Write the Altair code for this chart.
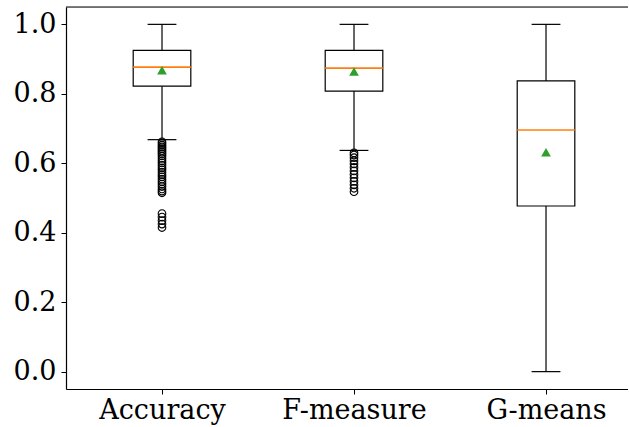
import json
import altair as alt
import pandas as pd

categories = ["Accuracy", "F-measure", "G-means"]
q1 = [0.822, 0.808, 0.477]
median = [0.877, 0.874, 0.696]
q3 = [0.925, 0.925, 0.837]
whisker_low = [0.668, 0.637, 0.0]
whisker_high = [1.0, 1.0, 1.0]
means = [0.868, 0.864, 0.632]

outliers_accuracy = [0.662, 0.657, 0.652, 0.647, 0.642, 0.637, 0.632, 0.627, 0.621,
                     0.614, 0.607, 0.601, 0.594, 0.587, 0.581, 0.574, 0.567, 0.561,
                     0.554, 0.547, 0.540, 0.533, 0.526, 0.520, 0.515,
                     0.455, 0.445, 0.435, 0.425, 0.415]
outliers_fmeasure = [0.630, 0.624, 0.616, 0.607, 0.598, 0.588, 0.578, 0.568, 0.558,
                     0.548, 0.538, 0.528, 0.518]
outliers_gmeans = []

FONT = "DejaVu Serif"
W, H = 562, 382

stats = pd.DataFrame({
    "cat": categories,
    "pos": [1, 2, 3],
    "q1": q1, "median": median, "q3": q3,
    "lo": whisker_low, "hi": whisker_high, "mean": means,
})

out_rows = []
for i, vals in enumerate([outliers_accuracy, outliers_fmeasure, outliers_gmeans]):
    for v in vals:
        out_rows.append({"pos": i + 1, "value": v})
outs = pd.DataFrame(out_rows)

xscale = alt.Scale(domain=[0.5, 3.427], nice=False, zero=False)
yscale = alt.Scale(domain=[-0.05, 1.05], nice=False, zero=False)

label_expr = f"{json.dumps(categories)}[datum.value - 1]"

xaxis = alt.Axis(values=[1, 2, 3], labelExpr=label_expr, title=None, grid=False,
                 labelFont=FONT, labelFontSize=27, labelColor="black",
                 tickColor="black", tickSize=5, domainColor="black", domainWidth=1.2,
                 labelPadding=3)
yaxis = alt.Axis(values=[0, 0.2, 0.4, 0.6, 0.8, 1.0], format=".1f", title=None, grid=False,
                 labelFont=FONT, labelFontSize=27, labelColor="black",
                 tickColor="black", tickSize=5, domainColor="black", domainWidth=1.2,
                 labelPadding=5)

base = alt.Chart(stats).transform_calculate(
    xl="datum.pos - 0.15", xr="datum.pos + 0.15",
    cl="datum.pos - 0.075", cr="datum.pos + 0.075",
)

boxes = base.mark_rect(fill="white", stroke="black", strokeWidth=1.2).encode(
    x=alt.X("xl:Q", scale=xscale, axis=xaxis),
    x2="xr:Q",
    y=alt.Y("q1:Q", scale=yscale, axis=yaxis),
    y2="q3:Q",
)
whisk_up = base.mark_rule(color="black", strokeWidth=1.2).encode(
    x=alt.X("pos:Q", scale=xscale), y=alt.Y("q3:Q", scale=yscale), y2="hi:Q")
whisk_dn = base.mark_rule(color="black", strokeWidth=1.2).encode(
    x=alt.X("pos:Q", scale=xscale), y=alt.Y("lo:Q", scale=yscale), y2="q1:Q")
cap_hi = base.mark_rule(color="black", strokeWidth=1.2).encode(
    x=alt.X("cl:Q", scale=xscale), x2="cr:Q", y=alt.Y("hi:Q", scale=yscale))
cap_lo = base.mark_rule(color="black", strokeWidth=1.2).encode(
    x=alt.X("cl:Q", scale=xscale), x2="cr:Q", y=alt.Y("lo:Q", scale=yscale))
med = base.mark_rule(color="#ff7f0e", strokeWidth=1.6).encode(
    x=alt.X("xl:Q", scale=xscale), x2="xr:Q", y=alt.Y("median:Q", scale=yscale))
mean_pts = base.mark_point(shape="triangle-up", filled=True, color="#2ca02c",
                           size=95, opacity=1).encode(
    x=alt.X("pos:Q", scale=xscale), y=alt.Y("mean:Q", scale=yscale))

fliers = alt.Chart(outs).mark_point(shape="circle", filled=False, color="black",
                                    size=58, strokeWidth=1.1, opacity=1).encode(
    x=alt.X("pos:Q", scale=xscale), y=alt.Y("value:Q", scale=yscale))

top_frame = alt.Chart(pd.DataFrame({"a": [0]})).mark_rule(
    color="black", strokeWidth=1.2).encode(
    x=alt.value(0), x2=alt.value(W), y=alt.value(0))

chart = alt.layer(
    boxes, whisk_up, whisk_dn, cap_hi, cap_lo, med, mean_pts, fliers, top_frame
).properties(
    width=W, height=H,
    autosize=alt.AutoSizeParams(type="none"),
    padding={"left": 66, "top": 7, "right": 0, "bottom": 38},
).configure_view(stroke=None).configure(background="white")

chart.save("out.html", embed_options={"renderer": "svg", "actions": False})
